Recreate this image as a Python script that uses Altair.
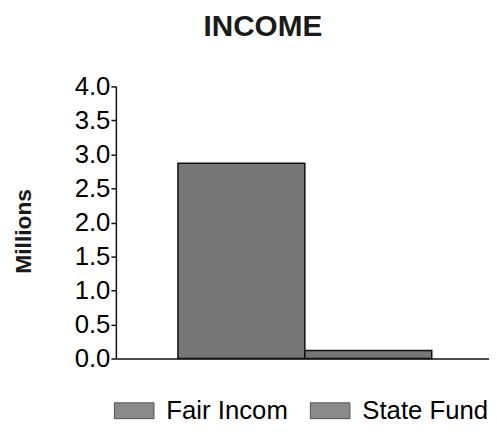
import altair as alt
import pandas as pd

categories = ["Fair Incom", "State Fund"]
values = [2.87, 0.12]
y_ticks = [0.0, 0.5, 1.0, 1.5, 2.0, 2.5, 3.0, 3.5, 4.0]

df = pd.DataFrame({"source": categories, "amount": values})

FONT = "Liberation Sans"
GRAY = "#767676"

chart = alt.Chart(df).mark_bar(
    stroke="#111111", strokeWidth=1.5, fill=GRAY
).encode(
    x=alt.X(
        "source:N",
        sort=categories,
        scale=alt.Scale(paddingInner=0, paddingOuter=0.47, align=0.52),
        axis=alt.Axis(labels=False, ticks=False, title=None, domainColor="#111111",
                      domainWidth=1.5),
    ),
    y=alt.Y(
        "amount:Q",
        scale=alt.Scale(domain=[0, 4], nice=False),
        axis=alt.Axis(
            values=y_ticks, format=".1f", title="Millions", grid=False,
            labelFont=FONT, labelFontSize=26, labelColor="#000000",
            tickSize=5, tickColor="#111111", tickWidth=1.5, labelPadding=1,
            domainColor="#111111", domainWidth=1.5,
            titleFont=FONT, titleFontSize=23, titleFontWeight="bold", titleColor="#1a1a1a",
            titleAngle=270, titleX=-93, titleY=146, titleAlign="center", titleBaseline="middle",
        ),
    ),
    color=alt.Color(
        "source:N",
        sort=categories,
        scale=alt.Scale(domain=categories, range=[GRAY, GRAY]),
        legend=alt.Legend(
            title=None, orient="none", legendX=-2, legendY=307, direction="horizontal",
            symbolType="M-1,-0.4H1V0.4H-1Z", symbolSize=1600, symbolStrokeColor="#333333",
            symbolStrokeWidth=1, symbolOpacity=0.85,
            labelFont=FONT, labelFontSize=26, labelColor="#000000", labelOffset=12,
            columnPadding=20, padding=0, labelLimit=300,
        ),
    ),
).properties(
    width=377,
    height=275,
    title=alt.TitleParams("INCOME", font=FONT, fontSize=30, fontWeight="bold",
                          color="#1a1a1a", anchor="middle", dx=-40, offset=32),
    autosize=alt.AutoSizeParams(type="none"),
    padding={"left": 109, "top": 77, "right": 0, "bottom": 70},
).configure_view(stroke=None)

chart.save("out.html", embed_options={"renderer": "svg", "actions": False})
